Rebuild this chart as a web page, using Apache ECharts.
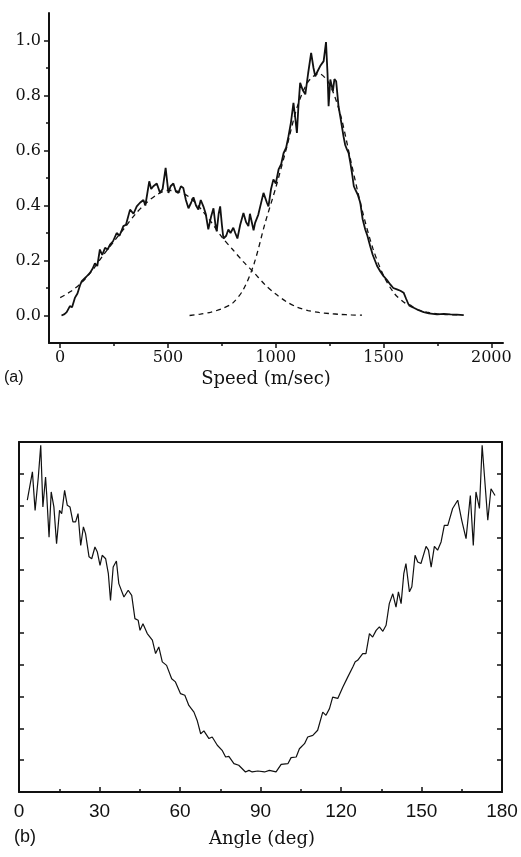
<!DOCTYPE html>
<html>
<head>
<meta charset="utf-8">
<script src="https://cdn.jsdelivr.net/npm/echarts@6/dist/echarts.min.js"></script>
<style>
html,body{margin:0;padding:0;background:#fff;}
#c{width:521px;height:857px;}
</style>
</head>
<body>
<div id="c"></div>
<script>
// ---- Panel (a): speed distribution ----
const speedTicks = [0, 500, 1000, 1500, 2000];
const speedMinorTicks = [250, 750, 1250, 1750];
const probTicks = [0, 0.2, 0.4, 0.6, 0.8, 1.0];
const probMinorTicks = [0.1, 0.3, 0.5, 0.7, 0.9];

const speedMeasured = [
[6,0.0],[20,0.005],[30,0.012],[45,0.034],[55,0.03],[68,0.064],[80,0.08],[92,0.11],[100,0.125],[107,0.12],
[120,0.14],[138,0.155],[150,0.17],[161,0.19],[172,0.18],[184,0.24],[195,0.22],[208,0.246],[220,0.24],[231,0.258],
[245,0.27],[262,0.30],[275,0.29],[293,0.325],[305,0.33],[324,0.385],[340,0.37],[355,0.397],[370,0.41],[386,0.42],
[395,0.40],[413,0.488],[422,0.46],[432,0.47],[448,0.48],[463,0.446],[475,0.46],[489,0.537],[502,0.446],[512,0.47],
[525,0.48],[537,0.45],[548,0.446],[560,0.47],[571,0.464],[583,0.42],[595,0.39],[607,0.41],[618,0.43],[630,0.40],
[641,0.385],[652,0.42],[664,0.397],[675,0.37],[687,0.313],[700,0.36],[711,0.39],[720,0.33],[726,0.306],[735,0.37],
[742,0.397],[750,0.33],[757,0.28],[770,0.29],[780,0.313],[790,0.30],[803,0.319],[812,0.30],[822,0.28],[835,0.33],
[850,0.373],[862,0.34],[873,0.325],[880,0.37],[889,0.367],[897,0.31],[904,0.337],[919,0.367],[927,0.36],[943,0.446],
[951,0.446],[959,0.41],[966,0.397],[978,0.46],[989,0.495],[1000,0.48],[1013,0.531],[1025,0.55],[1036,0.59],[1048,0.61],
[1059,0.652],[1070,0.70],[1082,0.773],[1090,0.72],[1098,0.664],[1105,0.76],[1113,0.846],[1125,0.82],[1137,0.804],[1150,0.88],
[1164,0.955],[1175,0.90],[1183,0.87],[1195,0.89],[1206,0.907],[1222,0.925],[1233,0.994],[1240,0.88],[1245,0.761],[1253,0.858],
[1265,0.816],[1272,0.86],[1280,0.852],[1291,0.761],[1300,0.72],[1314,0.652],[1322,0.62],[1330,0.604],[1338,0.59],[1346,0.555],
[1355,0.51],[1362,0.47],[1369,0.458],[1380,0.44],[1392,0.41],[1403,0.35],[1415,0.313],[1425,0.29],[1438,0.252],[1450,0.22],
[1460,0.20],[1470,0.18],[1485,0.16],[1500,0.143],[1515,0.13],[1531,0.113],[1545,0.10],[1562,0.095],[1578,0.09],[1593,0.083],
[1605,0.06],[1616,0.04],[1628,0.035],[1640,0.028],[1660,0.02],[1686,0.012],[1710,0.008],[1748,0.004],[1780,0.006],[1810,0.004],
[1840,0.003],[1872,0.001]
];

const slowFit = [
[0,0.065],[50,0.088],[100,0.12],[150,0.165],[200,0.22],[250,0.27],[300,0.32],[350,0.37],[400,0.41],[450,0.44],
[500,0.455],[550,0.45],[600,0.43],[650,0.39],[700,0.34],[750,0.285],[800,0.24],[850,0.195],[900,0.155],[950,0.112],
[1000,0.078],[1050,0.05],[1100,0.03],[1150,0.018],[1200,0.011],[1250,0.007],[1300,0.004],[1350,0.002],[1400,0.001]
];

const fastFit = [
[600,0.0],[650,0.005],[700,0.012],[750,0.025],[800,0.045],[850,0.095],[900,0.19],[950,0.335],[1000,0.465],[1050,0.61],
[1100,0.76],[1150,0.85],[1200,0.88],[1250,0.84],[1300,0.73],[1350,0.555],[1400,0.385],[1450,0.245],[1500,0.145],[1550,0.08],
[1600,0.045],[1650,0.024],[1700,0.012],[1750,0.006],[1800,0.003],[1850,0.002]
];

// ---- Panel (b): angular distribution ----
const angleTicks = [0, 30, 60, 90, 120, 150, 180];
const angleMeasured = [
[3.1,9.17],[5.0,10.06],[6.0,8.85],[7.2,9.9],[8.1,10.9],[8.9,8.96],[9.9,9.9],[10.3,9.38],[11.2,8.01],[12.0,9.43],
[13.0,8.96],[14.0,7.8],[15.1,8.85],[15.9,8.75],[17.0,9.48],[18.0,9.01],[19.0,8.96],[20.1,8.49],[21.1,8.49],[22.0,8.75],
[23.0,7.75],[24.0,8.33],[24.8,8.12],[26.1,7.39],[27.1,7.33],[28.3,7.7],[29.2,7.54],[30.2,7.12],[31.0,7.44],[32.3,7.33],
[33.3,6.86],[34.1,6.02],[35.1,7.07],[36.3,7.26],[37.2,6.55],[39.1,6.13],[40.7,6.34],[42.0,6.18],[43.2,5.45],[44.4,5.4],
[45.1,5.08],[46.2,5.29],[47.8,4.98],[49.7,4.77],[50.9,4.35],[52.1,4.56],[53.4,4.09],[55.0,3.98],[56.9,3.56],[58.3,3.46],
[60.2,3.09],[61.8,3.04],[63.3,2.72],[65.2,2.51],[66.4,2.25],[67.7,1.83],[68.9,1.92],[70.8,1.68],[72.0,1.73],[73.9,1.47],
[75.7,1.31],[77.0,1.1],[78.2,1.12],[80.1,0.89],[81.9,0.84],[84.4,0.63],[85.7,0.68],[86.9,0.63],[89.0,0.66],[91.5,0.63],
[93.3,0.68],[95.8,0.63],[97.7,0.87],[100.2,0.89],[101.4,1.08],[103.3,1.1],[104.5,1.36],[106.4,1.52],[107.6,1.73],[109.5,1.78],
[111.3,1.94],[113.2,2.51],[114.4,2.41],[115.7,2.62],[116.9,2.98],[118.8,2.94],[120.7,3.3],[122.5,3.61],[124.4,3.93],[125.3,4.09],
[126.2,4.14],[128.1,4.35],[129.3,4.35],[130.6,4.98],[131.8,4.87],[133.1,5.08],[134.3,5.19],[135.6,5.05],[136.8,5.24],[138.0,5.92],
[139.3,6.23],[140.5,5.81],[141.4,6.29],[142.4,5.92],[143.4,6.86],[144.2,7.18],[145.5,6.29],[146.4,6.45],[147.6,7.44],[148.6,7.23],
[149.8,7.18],[151.7,7.72],[152.6,7.6],[153.6,7.07],[154.8,7.72],[156.0,7.6],[157.3,7.86],[158.5,8.38],[159.8,8.38],[161.6,8.91],
[163.5,9.17],[165.0,8.54],[166.6,7.96],[168.2,9.32],[169.3,7.75],[170.3,9.43],[171.6,8.91],[172.6,10.9],[173.4,10.0],[174.7,8.54],
[175.9,9.53],[177.4,9.32]
];

const ink = '#111';
const serif = 'DejaVu Serif';
const sans = 'Liberation Sans';

const chart = echarts.init(document.getElementById('c'), null, {renderer: 'canvas'});
chart.setOption({
  backgroundColor: '#fff',
  animation: false,
  grid: [
    {left: 49, top: 13, width: 454, height: 330},
    {left: 19, top: 442, width: 483, height: 350}
  ],
  xAxis: [
    {gridIndex: 0, type: 'value', min: -52, max: 2054, position: 'bottom',
     axisLine: {show: true, onZero: false, lineStyle: {color: ink, width: 2}},
     axisTick: {show: true, inside: false, length: 5, customValues: speedTicks, lineStyle: {color: ink, width: 1.5}},
     axisLabel: {show: true, customValues: speedTicks, margin: 7, color: ink, fontFamily: serif, fontSize: 16,
                 formatter: v => String(v)},
     splitLine: {show: false}},
    {gridIndex: 0, type: 'value', min: -52, max: 2054, position: 'bottom', offset: 0,
     axisLine: {show: false, onZero: false},
     axisTick: {show: true, inside: false, length: 3, customValues: speedMinorTicks, lineStyle: {color: ink, width: 1.5}},
     axisLabel: {show: false}, splitLine: {show: false}},
    {gridIndex: 1, type: 'value', min: 0, max: 180, interval: 30, position: 'bottom',
     axisLine: {show: true, onZero: false, lineStyle: {color: ink, width: 2}},
     axisTick: {show: true, inside: true, length: 5, lineStyle: {color: ink, width: 1.5}},
     minorTick: {show: true, splitNumber: 2, length: 3, lineStyle: {color: ink, width: 1.5}},
     axisLabel: {show: true, margin: 10, color: ink, fontFamily: sans, fontSize: 19},
     splitLine: {show: false}},
    {gridIndex: 1, type: 'value', min: 0, max: 180, position: 'top',
     axisLine: {show: true, onZero: false, lineStyle: {color: ink, width: 2}},
     axisTick: {show: false}, axisLabel: {show: false}, splitLine: {show: false}}
  ],
  yAxis: [
    {gridIndex: 0, type: 'value', min: -0.1, max: 1.1, position: 'left',
     axisLine: {show: true, onZero: false, lineStyle: {color: ink, width: 2}},
     axisTick: {show: true, inside: false, length: 5, customValues: probTicks, lineStyle: {color: ink, width: 1.5}},
     axisLabel: {show: true, customValues: probTicks, margin: 8, color: ink, fontFamily: serif, fontSize: 16,
                 formatter: v => v.toFixed(1)},
     splitLine: {show: false}},
    {gridIndex: 0, type: 'value', min: -0.1, max: 1.1, position: 'left', offset: 0,
     axisLine: {show: false, onZero: false},
     axisTick: {show: true, inside: false, length: 3, customValues: probMinorTicks, lineStyle: {color: ink, width: 1.5}},
     axisLabel: {show: false}, splitLine: {show: false}},
    {gridIndex: 1, type: 'value', min: 0, max: 11, interval: 1, position: 'left',
     axisLine: {show: true, onZero: false, lineStyle: {color: ink, width: 2}},
     axisTick: {show: true, inside: true, length: 5, lineStyle: {color: ink, width: 1.5}},
     axisLabel: {show: false}, splitLine: {show: false}},
    {gridIndex: 1, type: 'value', min: 0, max: 11, interval: 1, position: 'right',
     axisLine: {show: true, onZero: false, lineStyle: {color: ink, width: 2}},
     axisTick: {show: true, inside: true, length: 5, lineStyle: {color: ink, width: 1.5}},
     axisLabel: {show: false}, splitLine: {show: false}}
  ],
  series: [
    {type: 'line', xAxisIndex: 0, yAxisIndex: 0, data: slowFit, showSymbol: false, smooth: 0.3,
     lineStyle: {color: ink, width: 1.3, type: [5, 4]}},
    {type: 'line', xAxisIndex: 0, yAxisIndex: 0, data: fastFit, showSymbol: false, smooth: 0.3,
     lineStyle: {color: ink, width: 1.3, type: [5, 4]}},
    {type: 'line', xAxisIndex: 0, yAxisIndex: 0, data: speedMeasured, showSymbol: false,
     lineStyle: {color: ink, width: 1.8}},
    {type: 'line', xAxisIndex: 2, yAxisIndex: 2, data: angleMeasured, showSymbol: false,
     lineStyle: {color: ink, width: 1.2}}
  ],
  graphic: [
    {type: 'text', left: 4, top: 370, style: {text: '(a)', font: '16px "Liberation Sans"', fill: ink}},
    {type: 'text', x: 266, y: 379, style: {text: 'Speed (m/sec)', font: '18px "DejaVu Serif"', fill: ink, align: 'center', verticalAlign: 'middle'}},
    {type: 'text', left: 14, top: 828, style: {text: '(b)', font: '18px "Liberation Sans"', fill: ink}},
    {type: 'text', x: 262, y: 839, style: {text: 'Angle (deg)', font: '18px "DejaVu Serif"', fill: ink, align: 'center', verticalAlign: 'middle'}}
  ]
});
</script>
</body>
</html>
